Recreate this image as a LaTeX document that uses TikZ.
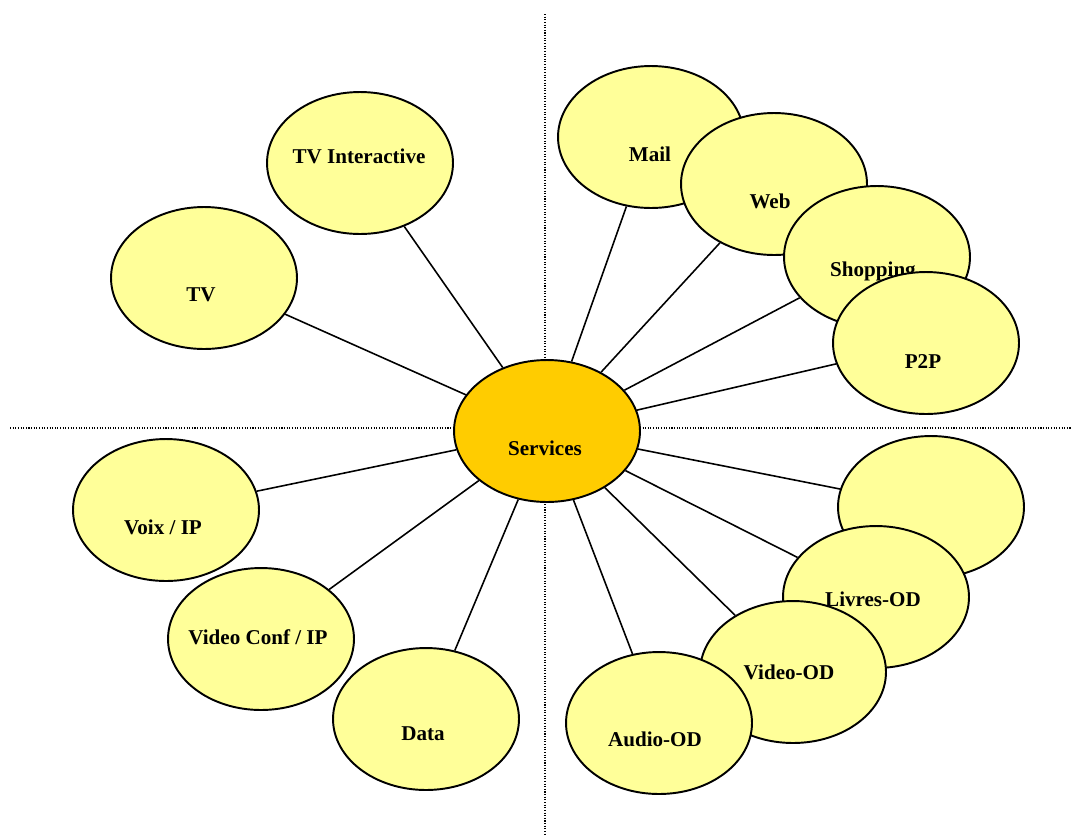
\documentclass[tikz,border=0pt]{standalone}
\usepackage{fontspec}
\setmainfont{Liberation Serif}
\usepackage{xcolor}
\usepackage{tikz}
\usetikzlibrary{shapes.geometric}
\definecolor{bubbleyellow}{RGB}{255, 255, 153}
\definecolor{hubgold}{RGB}{255, 204, 0}

\begin{document}
\begin{tikzpicture}[x=0.02cm, y=-0.02cm,
  bubble/.style={ellipse, draw, line width=1.1pt, fill=bubbleyellow, minimum width=3.72cm, minimum height=2.84cm, inner sep=0pt},
  lbl/.style={font=\fontsize{12}{14}\selectfont\bfseries, text height=8pt, text depth=0pt, inner sep=0pt},
  spoke/.style={line width=0.9pt},
  guide/.style={line width=0.6pt, dash pattern=on 0.6pt off 0.9pt}]
\useasboundingbox (0,0) rectangle (1074,836);

% quadrant guides
\draw[guide] (545,14) -- (545,836);
\draw[guide] (10,428) -- (1072,428);

% upper left
\node[bubble] (tvi) at (360,163) {};
\node[lbl] (tvi-t) at (359,156) {TV Interactive};
\node[bubble] (tv) at (204,278) {};
\node[lbl] (tv-t) at (201,294) {TV};

% upper right
\node[bubble] (mail) at (651,137) {};
\node[lbl] (mail-t) at (650,154) {Mail};
\node[bubble] (web) at (774,184) {};
\node[lbl] (web-t) at (770,201) {Web};
\node[bubble] (shop) at (877,257) {};
\node[lbl] (shop-t) at (873,269) {Shopping};
\node[bubble] (p2p) at (926,343) {};
\node[lbl] (p2p-t) at (923,361) {P2P};

% lower right
\node[bubble] (blank) at (931,507) {};
\node[bubble] (livres) at (876,597) {};
\node[lbl] (livres-t) at (873,599) {Livres-OD};
\node[bubble] (vod) at (793,672) {};
\node[lbl] (vod-t) at (789,672) {Video-OD};
\node[bubble] (aod) at (659,723) {};
\node[lbl] (aod-t) at (655,739) {Audio-OD};

% lower left
\node[bubble] (data) at (426,719) {};
\node[lbl] (data-t) at (423,733) {Data};
\node[bubble] (vconf) at (261,639) {};
\node[lbl] (vconf-t) at (258,637) {Video Conf / IP};
\node[bubble] (voix) at (166,510) {};
\node[lbl] (voix-t) at (163,527) {Voix / IP};

% hub
\node[bubble, fill=hubgold] (srv) at (547,431) {};
\node[lbl] (srv-t) at (545,448) {Services};

\draw[spoke] (srv) -- (tvi);
\draw[spoke] (srv) -- (tv);
\draw[spoke] (srv) -- (mail);
\draw[spoke] (srv) -- (web);
\draw[spoke] (srv) -- (shop);
\draw[spoke] (srv) -- (p2p);
\draw[spoke] (srv) -- (blank);
\draw[spoke] (srv) -- (livres);
\draw[spoke] (srv) -- (vod);
\draw[spoke] (srv) -- (aod);
\draw[spoke] (srv) -- (data);
\draw[spoke] (srv) -- (vconf);
\draw[spoke] (srv) -- (voix);
\end{tikzpicture}
\end{document}
